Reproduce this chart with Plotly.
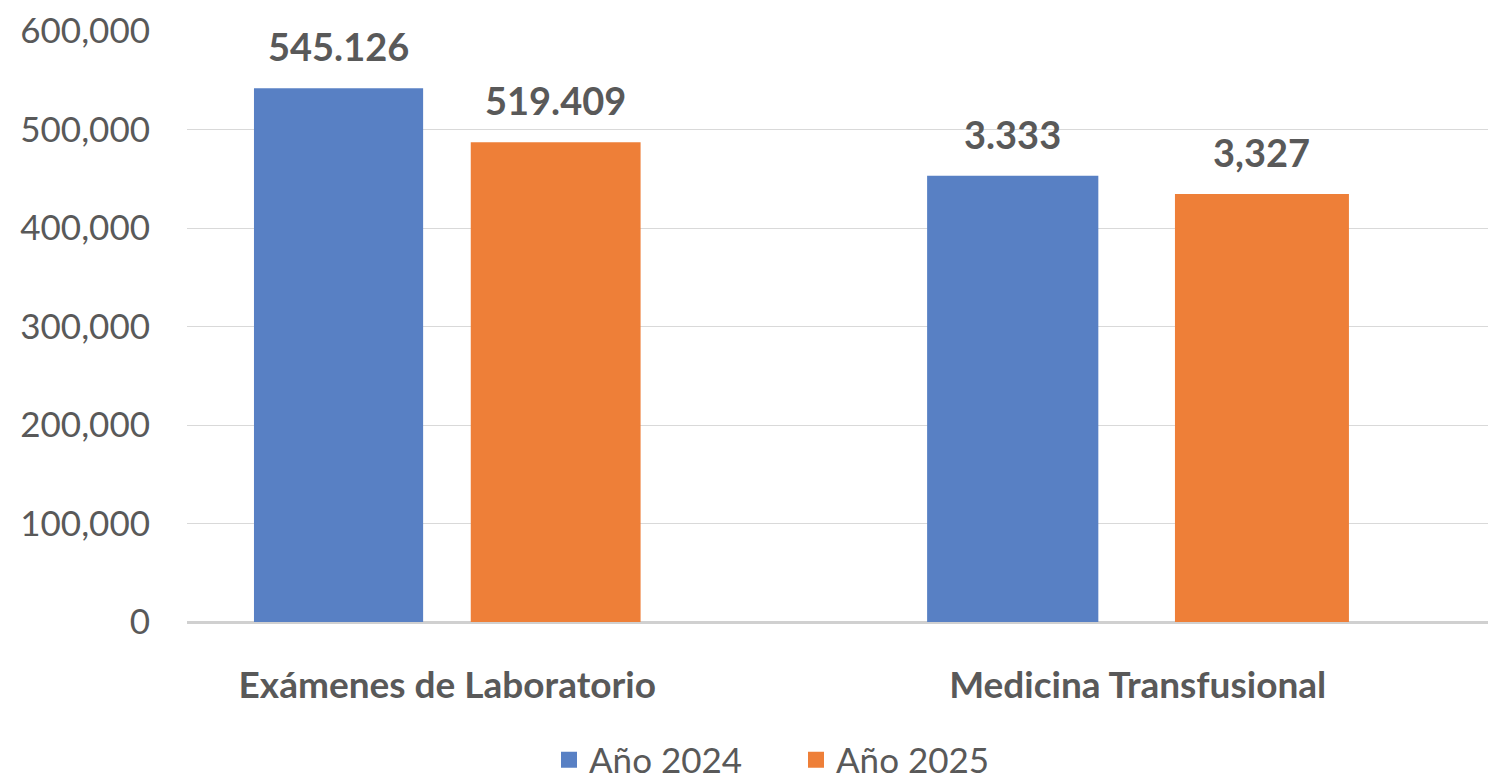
import plotly.graph_objects as go

categories = ["Exámenes de Laboratorio", "Medicina Transfusional"]
series_names = ["Año 2024", "Año 2025"]
values_2024 = [542000, 453000]
values_2025 = [487000, 434500]
labels_2024 = ["545.126", "3.333"]
labels_2025 = ["519.409", "3,327"]
y_ticks = [0, 100000, 200000, 300000, 400000, 500000, 600000]

# style: per-bar offsets / widths in category units (relative to category center)
bar_offsets = [[-0.280, -0.305], [0.034, 0.054]]
bar_widths = [[0.245, 0.248], [0.246, 0.252]]

colors = ["#5880C4", "#EE7F38"]
text_color = "#595959"
FONT = "Lato"

# page has an 8px body margin: figure coordinates are page coordinates - 8
W, H = 1488, 775
ML, MR, MT, MB = 179, 0, 23, 161
x_range = [-0.377, 1.519]
px_per_unit = (W - ML - MR) / (x_range[1] - x_range[0])
plot_h = H - MT - MB

fig = go.Figure()
series = [(values_2024, labels_2024), (values_2025, labels_2025)]
for i, (vals, labs) in enumerate(series):
    fig.add_trace(go.Bar(
        x=categories, y=vals, name=series_names[i],
        offset=bar_offsets[i], width=bar_widths[i],
        marker=dict(color=colors[i], line=dict(width=0)),
        showlegend=False, hoverinfo="skip",
    ))
    # legend proxy
    fig.add_trace(go.Scatter(
        x=[None], y=[None], mode="markers", name=series_names[i],
        marker=dict(symbol="square", size=20, color=colors[i]),
        showlegend=True,
    ))
    for j, (c, v, t) in enumerate(zip(categories, vals, labs)):
        center = bar_offsets[i][j] + bar_widths[i][j] / 2
        fig.add_annotation(
            x=c, y=v, text=t, showarrow=False, xanchor="center", yanchor="bottom",
            xshift=center * px_per_unit, yshift=17,
            font=dict(family=FONT, size=38, color=text_color, weight="bold"),
        )

fig.update_layout(
    width=W, height=H,
    margin=dict(l=ML, r=MR, t=MT, b=MB, autoexpand=False),
    paper_bgcolor="white", plot_bgcolor="white",
    barmode="overlay",
    font=dict(family=FONT, color=text_color),
    legend=dict(
        orientation="h", x=362 / (W - ML - MR), xanchor="left",
        y=(614 - 752) / plot_h, yanchor="middle",
        font=dict(family=FONT, size=35, color=text_color),
        entrywidth=202, entrywidthmode="pixels",
        itemsizing="trace", bgcolor="rgba(0,0,0,0)",
    ),
)
fig.update_xaxes(
    range=x_range, showgrid=False, showline=False, ticks="",
    tickfont=dict(family=FONT, size=37, color=text_color, weight="bold"),
    ticklabelstandoff=38,
)
fig.update_yaxes(
    range=[0, 600000], tickvals=y_ticks, tickformat=",d",
    showgrid=True, gridcolor="#D9D9D9", gridwidth=1,
    zeroline=True, zerolinecolor="#D0D0D0", zerolinewidth=3,
    showline=False, ticks="",
    tickfont=dict(family=FONT, size=35, color=text_color),
    ticklabelstandoff=36,
)

fig.write_html("out.html")
